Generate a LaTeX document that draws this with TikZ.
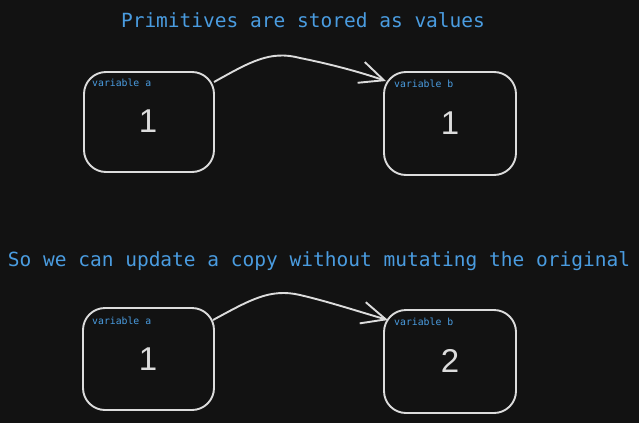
\documentclass[tikz,border=0pt]{standalone}
\usepackage{fontspec}
\setmainfont{Liberation Sans}
\setmonofont{DejaVu Sans Mono}
\usetikzlibrary{arrows.meta}
\definecolor{bg}{HTML}{121212}
\definecolor{ink}{HTML}{DCDCDC}
\definecolor{txt}{HTML}{4A9CE0}
\begin{document}
\begin{tikzpicture}[x=1pt,y=-1pt,
  varbox/.style={draw=ink,line width=1.9pt,rounded corners=22pt,minimum width=130pt,minimum height=100pt,inner sep=0pt},
  vlabel/.style={text=txt,font=\ttfamily\fontsize{9.8}{11}\selectfont,anchor=west,inner sep=0pt},
  val/.style={text=ink,font=\fontsize{33}{36}\selectfont,inner sep=0pt},
  title/.style={text=txt,font=\ttfamily\fontsize{19.5}{22}\selectfont,inner sep=0pt},
  conn/.style={draw=ink,line width=1.9pt,-{Straight Barb[length=24pt,width=22pt,line width=1.9pt]}}]
\fill[bg] (0,0) rectangle (639,423);
\useasboundingbox (0,0) rectangle (639,423);

\node[title] (t1) at (303,20) {Primitives are stored as values};
\node[title] (t2) at (319,261) {So we can update a copy without mutating the original};

\node[varbox] (a1) at (149,122) {};
\node[varbox,minimum width=132pt,minimum height=103pt] (b1) at (450,123.5) {};
\node[varbox,minimum width=131pt,minimum height=102pt] (a2) at (148.5,359) {};
\node[varbox,minimum width=132pt,minimum height=103pt] (b2) at (450,361.5) {};

\node[vlabel] (la1) at (92,83) {variable a};
\node[vlabel] (lb1) at (394,84) {variable b};
\node[vlabel] (la2) at (92,321) {variable a};
\node[vlabel] (lb2) at (394,322) {variable b};

\node[val] (va1) at (148,121) {1};
\node[val] (vb1) at (450,123) {1};
\node[val] (va2) at (148,359) {1};
\node[val] (vb2) at (450,361) {2};

\coordinate (s1) at (214,82);
\coordinate (e1) at (386,81);
\coordinate (s2) at (213,320);
\coordinate (e2) at (388,320);
\draw[conn] (s1) .. controls (250,62) and (270,50) .. (300,58) .. controls (330,64) and (360,72) .. (e1);
\draw[conn] (s2) .. controls (250,300) and (270,288) .. (300,295) .. controls (330,302) and (360,312) .. (e2);
\end{tikzpicture}
\end{document}
